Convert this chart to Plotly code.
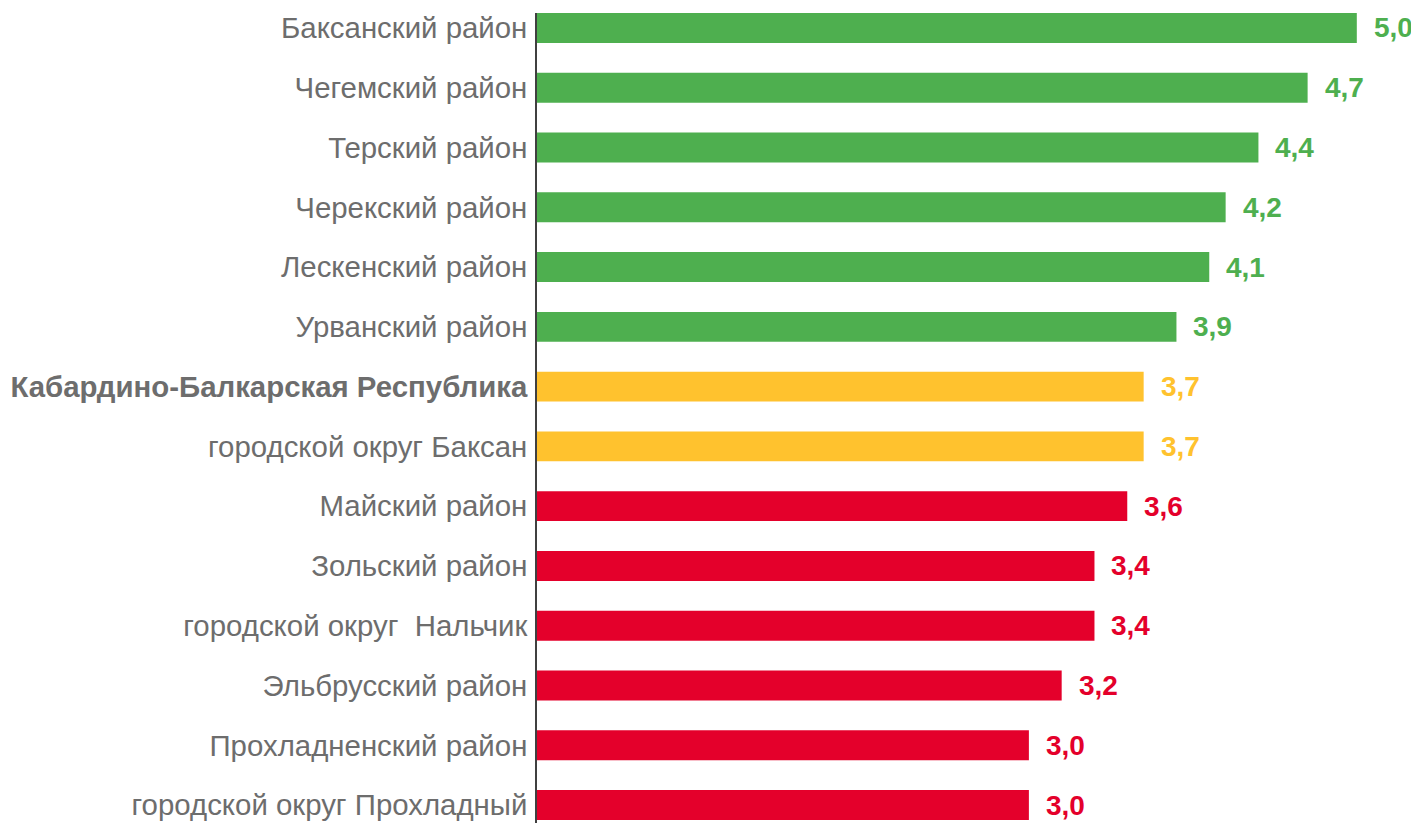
import plotly.graph_objects as go

categories = [
    "Баксанский район",
    "Чегемский район",
    "Терский район",
    "Черекский район",
    "Лескенский район",
    "Урванский район",
    "<b>Кабардино-Балкарская Республика</b>",
    "городской округ Баксан",
    "Майский район",
    "Зольский район",
    "городской округ  Нальчик",
    "Эльбрусский район",
    "Прохладненский район",
    "городской округ Прохладный",
]
values = [5.0, 4.7, 4.4, 4.2, 4.1, 3.9, 3.7, 3.7, 3.6, 3.4, 3.4, 3.2, 3.0, 3.0]
groups = ["high"] * 6 + ["mid"] * 2 + ["low"] * 6

palette = {"high": "#4EAF4F", "mid": "#FFC22E", "low": "#E4002B"}
colors = [palette[g] for g in groups]

fig = go.Figure(
    go.Bar(
        x=values,
        y=categories,
        orientation="h",
        marker=dict(color=colors, line=dict(width=0)),
        width=0.5,
        hoverinfo="skip",
    )
)

for cat, v, c in zip(categories, values, colors):
    fig.add_annotation(
        x=v, y=cat, xref="x", yref="y",
        text=f"<b>{v:.1f}</b>".replace(".", ","),
        showarrow=False, xanchor="left", yanchor="middle",
        xshift=15, font=dict(family="Liberation Sans, Arial", size=28, color=c),
    )

fig.update_layout(
    width=1411, height=815,
    margin=dict(l=529, r=13, t=5, b=0),
    paper_bgcolor="white", plot_bgcolor="white",
    showlegend=False,
    font=dict(family="Liberation Sans, Arial", size=29, color="#6D6D6D"),
)
fig.update_xaxes(range=[0, 5.3], visible=False, showgrid=False, zeroline=False)
fig.update_yaxes(
    range=[13.3, -0.25], showline=True, linecolor="#404040", linewidth=1.5,
    showgrid=False, zeroline=False, ticks="", ticklabelstandoff=2,
    automargin=False,
    tickfont=dict(family="Liberation Sans, Arial", size=29.4, color="#6D6D6D"),
)

fig.write_html("out.html")
